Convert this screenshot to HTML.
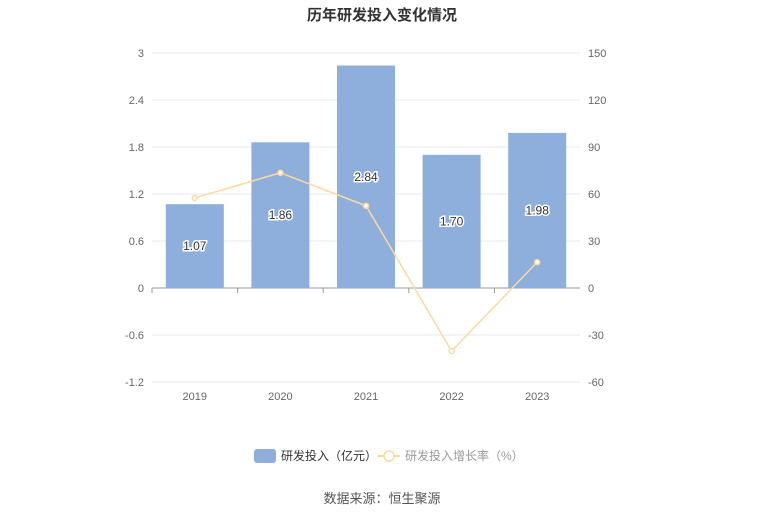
<!DOCTYPE html>
<html><head><meta charset="utf-8"><style>
body{margin:0;background:#fff;font-family:"Liberation Sans","Noto Sans CJK SC",sans-serif}
svg text{font-family:"Liberation Sans","Noto Sans CJK SC",sans-serif}
</style></head><body>
<svg id="c" width="765" height="517" xmlns="http://www.w3.org/2000/svg">
<text x="382" y="20" text-anchor="middle" font-size="15" font-weight="bold" fill="#333">历年研发投入变化情况</text>
<g id="grid"></g><g id="bars"></g><g id="line"></g><g id="axes"></g>
<g>
<rect x="254" y="449" width="22" height="14" rx="3" fill="#8eaedb"/>
<text x="281" y="460" font-size="12" fill="#333">研发投入（亿元）</text>
<line x1="378" y1="456" x2="400" y2="456" stroke="#fcd9a1" stroke-width="2"/>
<circle cx="389" cy="456" r="5" fill="#fff" stroke="#fcd9a1" stroke-width="1.5"/>
<text x="405" y="460" font-size="12" fill="#999">研发投入增长率（%）</text>
</g>
<text x="382" y="503" text-anchor="middle" font-size="13" fill="#555">数据来源：恒生聚源</text>
</svg>
<script>
const categories=["2019","2020","2021","2022","2023"];
const investValues=[1.07,1.86,2.84,1.70,1.98];
const growthValues=[57.5,73.5,52.5,-40.2,16.5];
const leftTicks=[3,2.4,1.8,1.2,0.6,0,-0.6,-1.2];
const rightTicks=[150,120,90,60,30,0,-30,-60];
const NS="http://www.w3.org/2000/svg";
const X0=152,X1=580,YT=53,YB=382;
const yL=v=>YT+(3-v)/(4.2)*(YB-YT);
const yR=v=>YT+(150-v)/(210)*(YB-YT);
const bw=(X1-X0)/categories.length;
const xC=i=>X0+bw*(i+0.5);
function mk(t,a,p){const e=document.createElementNS(NS,t);for(const k in a)e.setAttribute(k,a[k]);document.getElementById(p).appendChild(e);return e;}
leftTicks.forEach((v,i)=>{
 const g=mk("line",{x1:X0,x2:X1,y1:yL(v),y2:yL(v),stroke:v===0?"#999":"#e6e9f0","stroke-width":1},"grid");
 
 
 const t=mk("text",{x:X0-8,y:yL(v)+4,"text-anchor":"end","font-size":11,fill:"#666"},"axes");t.textContent=v;
 
 
 const r=mk("text",{x:X1+8,y:yR(rightTicks[i])+4,"font-size":11,fill:"#666"},"axes");r.textContent=rightTicks[i];
 
 
});
categories.forEach((c,i)=>{
 const v=investValues[i];
 const b=mk("rect",{x:xC(i)-29,y:yL(v),width:58,height:yL(0)-yL(v),fill:"#8eaedb"},"bars");
 
 
 const l=mk("text",{x:xC(i),y:(yL(v)+yL(0))/2+4,"text-anchor":"middle","font-size":12,fill:"#333",stroke:"#fff","stroke-width":3,"paint-order":"stroke"},"bars");l.textContent=v.toFixed(2);
 
 
 const tk=mk("line",{x1:X0+bw*i,x2:X0+bw*i,y1:yL(0),y2:yL(0)+5,stroke:"#999"},"axes");
 
 
 const t=mk("text",{x:xC(i),y:YB+18,"text-anchor":"middle","font-size":11,fill:"#666"},"axes");t.textContent=c;
 
 
});
const pl=mk("polyline",{points:growthValues.map((v,i)=>xC(i)+","+yR(v)).join(" "),fill:"none",stroke:"#fcd9a1","stroke-width":1.5},"line");


growthValues.forEach((v,i)=>{
 const p=mk("circle",{cx:xC(i),cy:yR(v),r:2.5,fill:"#fff",stroke:"#fcd9a1","stroke-width":1.5},"line");
 
 
});
</script>
</body></html>
